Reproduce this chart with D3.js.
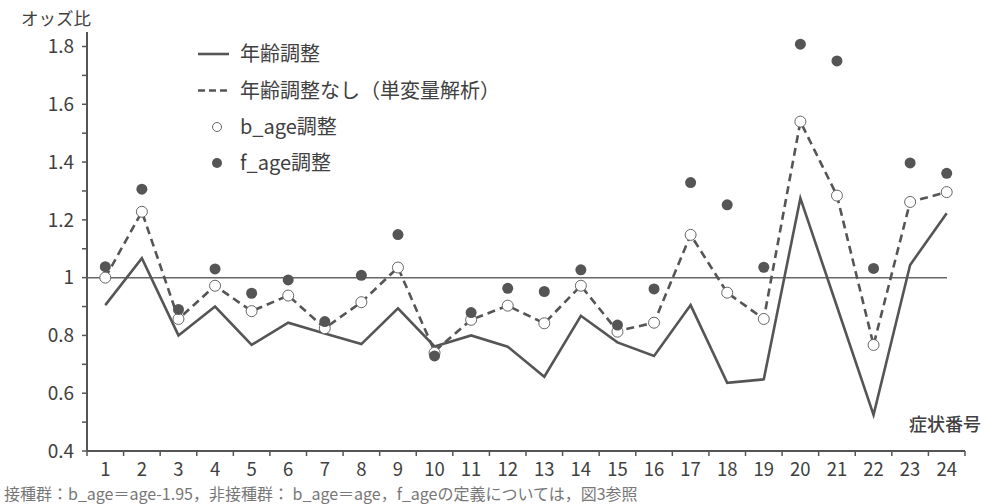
<!DOCTYPE html>
<html><head><meta charset="utf-8">
<script src="https://cdn.jsdelivr.net/npm/d3@7"></script>
<style>
body{margin:0;background:#fff;}
text{font-family:"Noto Sans CJK JP","Noto Sans",sans-serif;}
</style></head>
<body><svg id="c" width="984" height="504"></svg>
<script>
const categories = d3.range(1,25).map(String);
const ageAdjusted = [0.905,1.067,0.80,0.90,0.767,0.844,0.807,0.77,0.894,0.762,0.80,0.761,0.657,0.868,0.776,0.729,0.905,0.636,0.648,1.275,0.90,0.525,1.044,1.223];
const unadjusted = [1.00,1.228,0.857,0.972,0.884,0.938,0.825,0.915,1.035,0.745,0.854,0.903,0.842,0.972,0.815,0.844,1.148,0.948,0.857,1.540,1.284,0.767,1.262,1.296];
const bAge = [1.00,1.228,0.857,0.972,0.884,0.938,0.825,0.915,1.035,0.74,0.854,0.903,0.842,0.972,0.813,0.844,1.148,0.948,0.857,1.540,1.284,0.767,1.262,1.296];
const fAge = [1.038,1.306,0.89,1.03,0.946,0.992,0.848,1.008,1.149,0.729,0.879,0.963,0.952,1.027,0.836,0.961,1.329,1.252,1.036,1.808,1.750,1.032,1.397,1.361];
const yTicks = [0.4,0.6,0.8,1.0,1.2,1.4,1.6,1.8];
const yMinor = d3.range(4,19).map(d=>d/10);
const legendLabels = ["年齢調整","年齢調整なし（単変量解析）","b_age調整","f_age調整"];
const yTitle = "オッズ比";
const xTitle = "症状番号";
const caption = "接種群：b_age＝age-1.95，非接種群： b_age＝age，f_ageの定義については，図3参照";

const svg = d3.select("#c");
const col = "#555";
const x = d3.scaleBand().domain(categories).range([87,965]).padding(0);
const y = d3.scaleLinear().domain([0.4,1.8]).range([451,46.5]);
const cx = d => x(d)+x.bandwidth()/2;

// y axis
svg.append("line").attr("x1",87).attr("x2",87).attr("y1",32).attr("y2",451).attr("stroke",col).attr("stroke-width",2);
svg.selectAll(".ym").data(yMinor).join("line").attr("x1",82).attr("x2",87)
  .attr("y1",d=>y(d)).attr("y2",d=>y(d)).attr("stroke",col).attr("stroke-width",1.5);
svg.selectAll(".yl").data(yTicks).join("text").attr("x",74).attr("y",d=>y(d)).attr("dy","0.36em")
  .attr("text-anchor","end").attr("font-size",19).attr("fill","#404040")
  .text(d=>d===1?"1":d3.format(".1f")(d));
svg.append("text").attr("x",21).attr("y",25).attr("font-size",17.5).attr("fill","#404040").text(yTitle);

// x axis
svg.append("line").attr("x1",87).attr("x2",965).attr("y1",451).attr("y2",451).attr("stroke",col).attr("stroke-width",2);
const bounds = categories.map(c=>x(c)).concat([965]);
svg.selectAll(".xt").data(bounds).join("line").attr("x1",d=>d).attr("x2",d=>d).attr("y1",451).attr("y2",456)
  .attr("stroke",col).attr("stroke-width",1.5);
svg.selectAll(".xl").data(categories).join("text").attr("x",d=>cx(d)).attr("y",476)
  .attr("text-anchor","middle").attr("font-size",18.5).attr("fill","#404040").text(d=>d);
svg.append("text").attr("x",981).attr("y",425).attr("dy","0.36em").attr("text-anchor","end")
  .attr("font-size",18).attr("font-weight",500).attr("fill","#404040").text(xTitle);

// reference line at 1
svg.append("line").attr("x1",87).attr("x2",947).attr("y1",y(1)).attr("y2",y(1)).attr("stroke","#666").attr("stroke-width",1.5);

const line = d3.line().x((d,i)=>cx(categories[i])).y(d=>y(d));
svg.append("path").attr("d",line(ageAdjusted)).attr("fill","none").attr("stroke",col).attr("stroke-width",2.6).attr("stroke-linejoin","miter");
svg.append("path").attr("d",line(unadjusted)).attr("fill","none").attr("stroke",col).attr("stroke-width",2.6).attr("stroke-dasharray","8,5");

svg.selectAll(".ob").data(bAge).join("circle").attr("cx",(d,i)=>cx(categories[i])).attr("cy",d=>y(d)).attr("r",5.5)
  .attr("fill","#fff").attr("stroke","#666").attr("stroke-width",1);
svg.selectAll(".fa").data(fAge).join("circle").attr("cx",(d,i)=>cx(categories[i])).attr("cy",d=>y(d)).attr("r",5.5)
  .attr("fill",col);

// legend
const ly = [54,90.5,127,163];
svg.append("line").attr("x1",198).attr("x2",229).attr("y1",ly[0]).attr("y2",ly[0]).attr("stroke",col).attr("stroke-width",2.6);
svg.append("line").attr("x1",198).attr("x2",229).attr("y1",ly[1]).attr("y2",ly[1]).attr("stroke",col).attr("stroke-width",2.6).attr("stroke-dasharray","7,4");
svg.append("circle").attr("cx",217).attr("cy",ly[2]).attr("r",4.5).attr("fill","#fff").attr("stroke","#666").attr("stroke-width",1);
svg.append("circle").attr("cx",217).attr("cy",ly[3]).attr("r",5).attr("fill",col);
svg.selectAll(".lg").data(legendLabels).join("text").attr("x",240).attr("y",(d,i)=>ly[i]).attr("dy","0.36em")
  .attr("font-size",20).attr("fill","#404040").text(d=>d);

// caption
svg.append("text").attr("x",4).attr("y",500).attr("font-size",16).attr("fill","#777").text(caption);
</script></body></html>
